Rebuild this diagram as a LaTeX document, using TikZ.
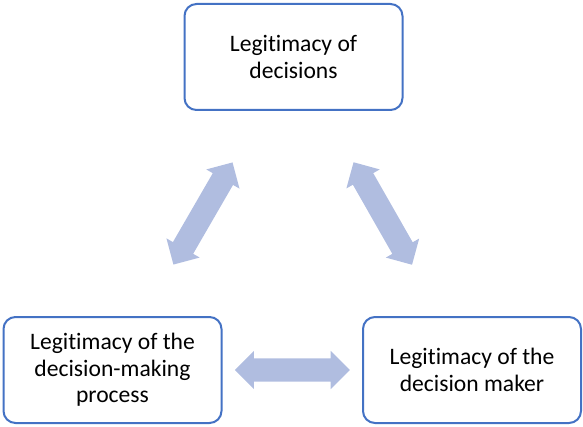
\documentclass[tikz,border=0pt]{standalone}
\usepackage{fontspec}
\setmainfont{Carlito}[Ligatures=NoCommon]
\usetikzlibrary{positioning,shapes.arrows}

\definecolor{boxblue}{HTML}{4472C4}
\definecolor{arrowfill}{RGB}{176,189,224}

\begin{document}
\begin{tikzpicture}[
	x=1pt,y=1pt,
	font=\fontsize{23.6}{26.7}\selectfont,
	box/.style={
	draw=boxblue,line width=2pt,rounded corners=12pt,
	minimum width=218pt,minimum height=106pt,align=center,
	},
	dblarrow/.style={
	shape=double arrow,fill=arrowfill,draw=none,
	inner xsep=0pt,inner ysep=11.5pt,
	double arrow head extend=7.5pt,minimum height=118pt,
	}
	]

\useasboundingbox (0,0) rectangle (583,-427);

\node[box] (decisions) at (293.5,-57) {Legitimacy of\\decisions};
\node[box] (process) at (112.5,-370) {Legitimacy of the\\decision-making\\process};
\node[box] (maker) at (472,-370) {Legitimacy of the\\decision maker};

\path (decisions) -- node[dblarrow,sloped] (arrowleft) {} (process);
\path (decisions) -- node[dblarrow,sloped] (arrowright) {} (maker);
\path (process) -- node[dblarrow,sloped,minimum height=115pt] (arrowbottom) {} (maker);

\end{tikzpicture}
\end{document}
